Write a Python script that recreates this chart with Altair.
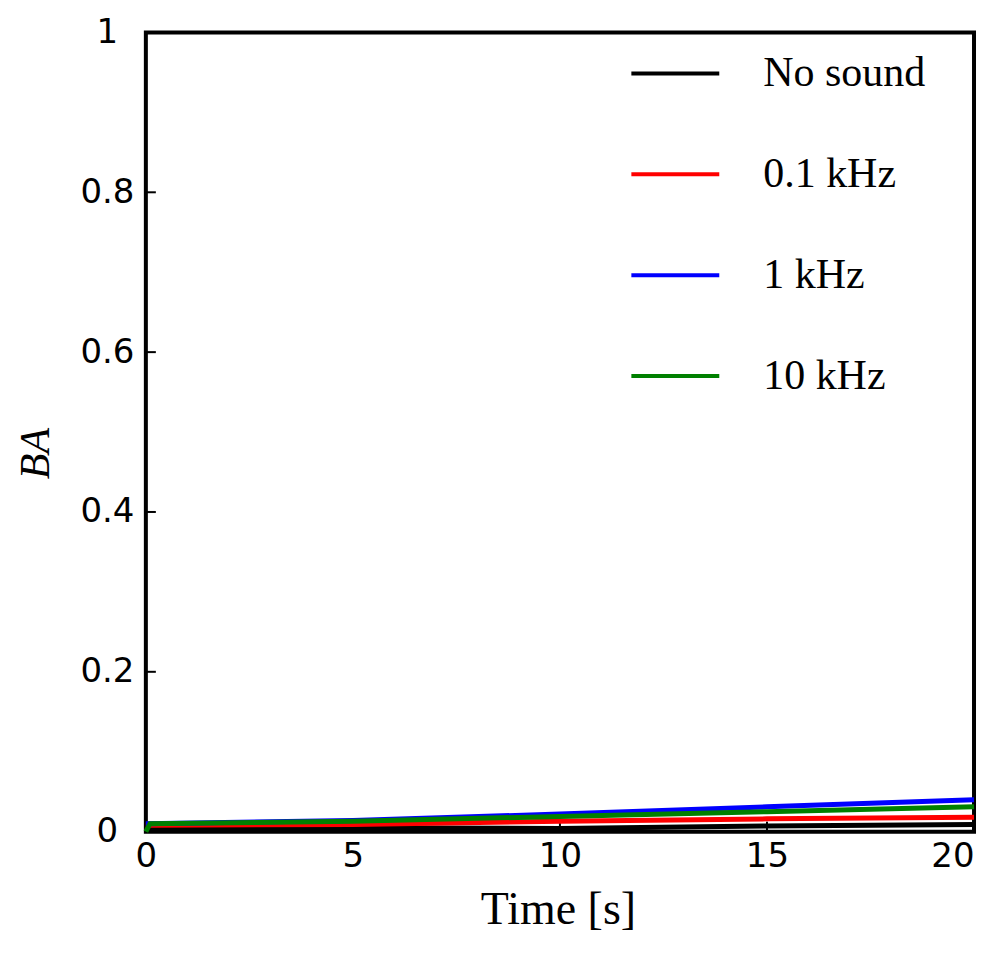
import altair as alt
import pandas as pd

times = [0, 5, 10, 15, 20]
series = ["No sound", "0.1 kHz", "1 kHz", "10 kHz"]
colors = ["#000000", "#ff0000", "#0000ff", "#008000"]
ba_nosound = [0.005, 0.005, 0.004, 0.007, 0.009]
ba_01k = [0.008, 0.009, 0.013, 0.016, 0.018]
ba_1k = [0.010, 0.014, 0.022, 0.031, 0.040]
ba_10k = [0.010, 0.013, 0.019, 0.025, 0.031]
green_start_time = [0, 0.1]
green_start_ba = [0.0, 0.010]

x_ticks = [0, 5, 10, 15, 20]
y_ticks = [0, 0.2, 0.4, 0.6, 0.8, 1]

rows = []
for name, vals in zip(series, [ba_nosound, ba_01k, ba_1k, ba_10k]):
    tt = times
    vv = vals
    if name == "10 kHz":
        tt = green_start_time + times[1:]
        vv = green_start_ba + vals[1:]
    for t, v in zip(tt, vv):
        rows.append({"series": name, "time": t, "BA": v})
df = pd.DataFrame(rows)

W, H = 829, 800

xscale = alt.Scale(domain=[0, 20], nice=False, zero=False)
yscale = alt.Scale(domain=[0, 1], nice=False)

lines = alt.Chart(df).mark_line(strokeWidth=5).encode(
    x=alt.X("time:Q", scale=xscale, title="Time [s]",
            axis=alt.Axis(values=x_ticks, ticks=False, tickSize=0, domain=False, grid=False,
                          labelFont="DejaVu Sans", labelFontSize=34, labelColor="black",
                          labelPadding=8, labelFlush=False,
                          labelAlign=alt.condition("datum.value == 20", alt.value("right"), alt.value("center")),
                          titleFont="Liberation Serif", titleFontSize=46, titleFontWeight="normal",
                          titleColor="black", titleX=W / 2 - 2, titleY=92,
                          titleBaseline="alphabetic", titleAlign="center")),
    y=alt.Y("BA:Q", scale=yscale, title="BA",
            axis=alt.Axis(values=y_ticks, ticks=False, tickSize=0, domain=False, grid=False,
                          labelFont="DejaVu Sans", labelFontSize=34, labelColor="black",
                          labelAlign="center", labelPadding=39, labelFlush=False,
                          labelExpr="datum.value == 0 ? '0' : datum.value == 1 ? '1' : format(datum.value, '.1f')",
                          titleFont="Liberation Serif", titleFontSize=42, titleFontWeight="normal",
                          titleFontStyle="italic", titleColor="black",
                          titleX=-110, titleY=421, titleAngle=-90,
                          titleAlign="center", titleBaseline="middle")),
    color=alt.Color("series:N", scale=alt.Scale(domain=series, range=colors),
                    legend=alt.Legend(title=None, orient="none", legendX=484, legendY=-5,
                                      symbolType="stroke", symbolSize=7744, symbolStrokeWidth=4,
                                      labelFont="Liberation Serif", labelFontSize=42,
                                      labelColor="black", labelOffset=42, rowPadding=34,
                                      padding=0, labelLimit=400)),
    detail="series:N",
)

ytick_df = pd.DataFrame({"v": y_ticks[1:-1]})
yticks = alt.Chart(ytick_df).mark_rule(color="black", strokeWidth=2).encode(
    y=alt.Y("v:Q", scale=yscale), x=alt.value(0), x2=alt.value(10)
)
xtick_df = pd.DataFrame({"v": x_ticks[1:-1]})
xticks = alt.Chart(xtick_df).mark_rule(color="black", strokeWidth=2).encode(
    x=alt.X("v:Q", scale=xscale), y=alt.value(H), y2=alt.value(H - 10)
)

chart = alt.layer(yticks, xticks, lines).properties(
    width=W, height=H,
    autosize=alt.AutoSizeParams(type="none"),
    padding={"left": 138, "top": 24, "right": 10, "bottom": 120},
    background="white",
).configure_view(stroke="black", strokeWidth=4)

chart.save("out.html", embed_options={"renderer": "svg", "actions": False})
